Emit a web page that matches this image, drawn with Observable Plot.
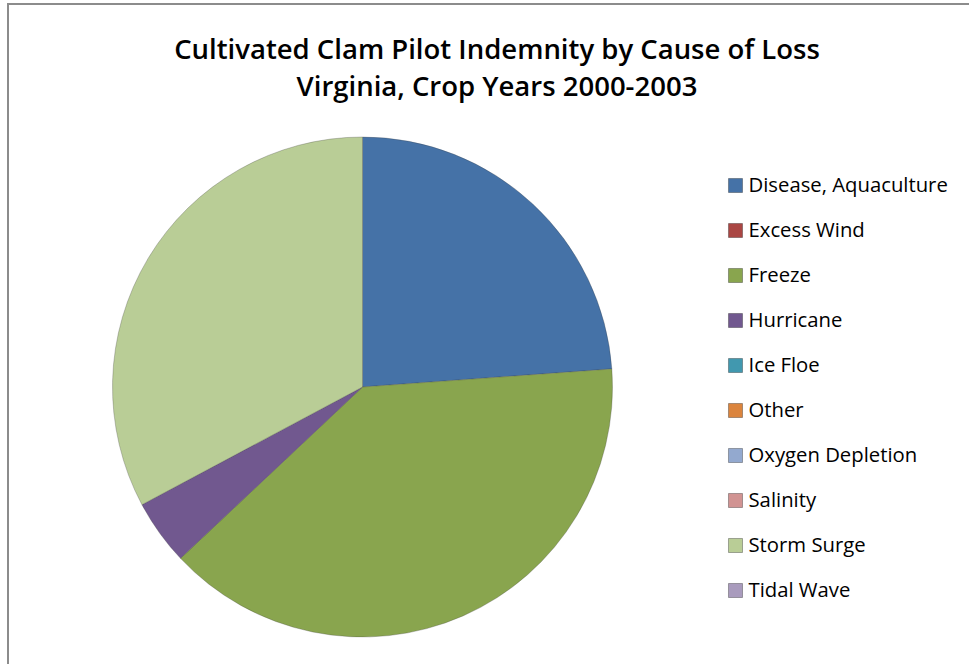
<!DOCTYPE html>
<html>
<head>
<meta charset="utf-8">
<script src="https://cdn.jsdelivr.net/npm/d3@7"></script>
<script src="https://cdn.jsdelivr.net/npm/@observablehq/plot@0.6"></script>
<style>
  html, body { margin: 0; padding: 0; background: #fff; width: 969px; height: 664px; overflow: hidden; }
  #frame { position: absolute; left: 7px; top: 3px; width: 1000px; height: 700px; border-left: 2px solid #8c8c8c; border-top: 2px solid #8c8c8c; }
  #wrap { position: absolute; left: 0; top: 0; width: 969px; }
  #title { position: relative; left: 8px; width: 978px; height: 110px; box-sizing: border-box; padding-top: 30px;
           text-align: center; font-family: "Open Sans", sans-serif; font-weight: 600; font-size: 27.5px; line-height: 37px; color: #000; }
  #title div { white-space: nowrap; }
  svg { display: block; }
</style>
</head>
<body>
<div id="frame"></div>
<div id="wrap">
  <div id="title"><div>Cultivated Clam Pilot Indemnity by Cause of Loss</div><div>Virginia, Crop Years 2000-2003</div></div>
  <div id="chart"></div>
</div>
<script>
// Data (share of indemnity, %)
const causes = ["Disease, Aquaculture", "Excess Wind", "Freeze", "Hurricane", "Ice Floe", "Other", "Oxygen Depletion", "Salinity", "Storm Surge", "Tidal Wave"];
const shares = [23.85, 0, 39.13, 4.22, 0, 0, 0, 0, 32.8, 0];
const colors = ["#4572A7", "#AA4643", "#89A54E", "#71588F", "#4198AF", "#DB843D", "#93A9CF", "#D19392", "#B9CD96", "#A99BBD"];

const data = causes.map((c, i) => ({cause: c, value: shares[i]}));

const W = 969, H = 554;
const cx = 362.5, cy = 277, R = 250;

const pieMark = (index, scales, values, dimensions) => {
  const g = d3.create("svg:g");
  const arcs = d3.pie().sort(null).value(d => d.value)(data).filter(a => a.data.value > 0);
  const arc = d3.arc().innerRadius(0).outerRadius(R);
  g.selectAll("path").data(arcs).join("path")
    .attr("transform", `translate(${cx},${cy})`)
    .attr("d", arc)
    .attr("fill", d => scales.color(d.data.cause))
    .attr("stroke", "#3a3a3a")
    .attr("stroke-opacity", 0.35)
    .attr("stroke-width", 0.8);
  return g.node();
};

const chart = Plot.plot({
  width: W,
  height: H,
  margin: 0,
  style: {background: "transparent", overflow: "visible"},
  color: {domain: causes, range: colors},
  y: {type: "point", domain: causes, range: [71, 483], padding: 0, axis: null},
  marks: [
    pieMark,
    Plot.dot(causes, {y: d => d, fill: d => d, symbol: "square", r: 7.9, frameAnchor: "left", dx: 735}),
    Plot.dot(causes, {y: d => d, stroke: "#000", strokeOpacity: 0.3, strokeWidth: 1, symbol: "square", r: 7.9, frameAnchor: "left", dx: 735}),
    Plot.text(causes, {y: d => d, text: d => d, frameAnchor: "left", dx: 748, textAnchor: "start", fontSize: 20.3, fontFamily: "Open Sans", fill: "#000"})
  ]
});
document.getElementById("chart").appendChild(chart);
</script>
</body>
</html>
